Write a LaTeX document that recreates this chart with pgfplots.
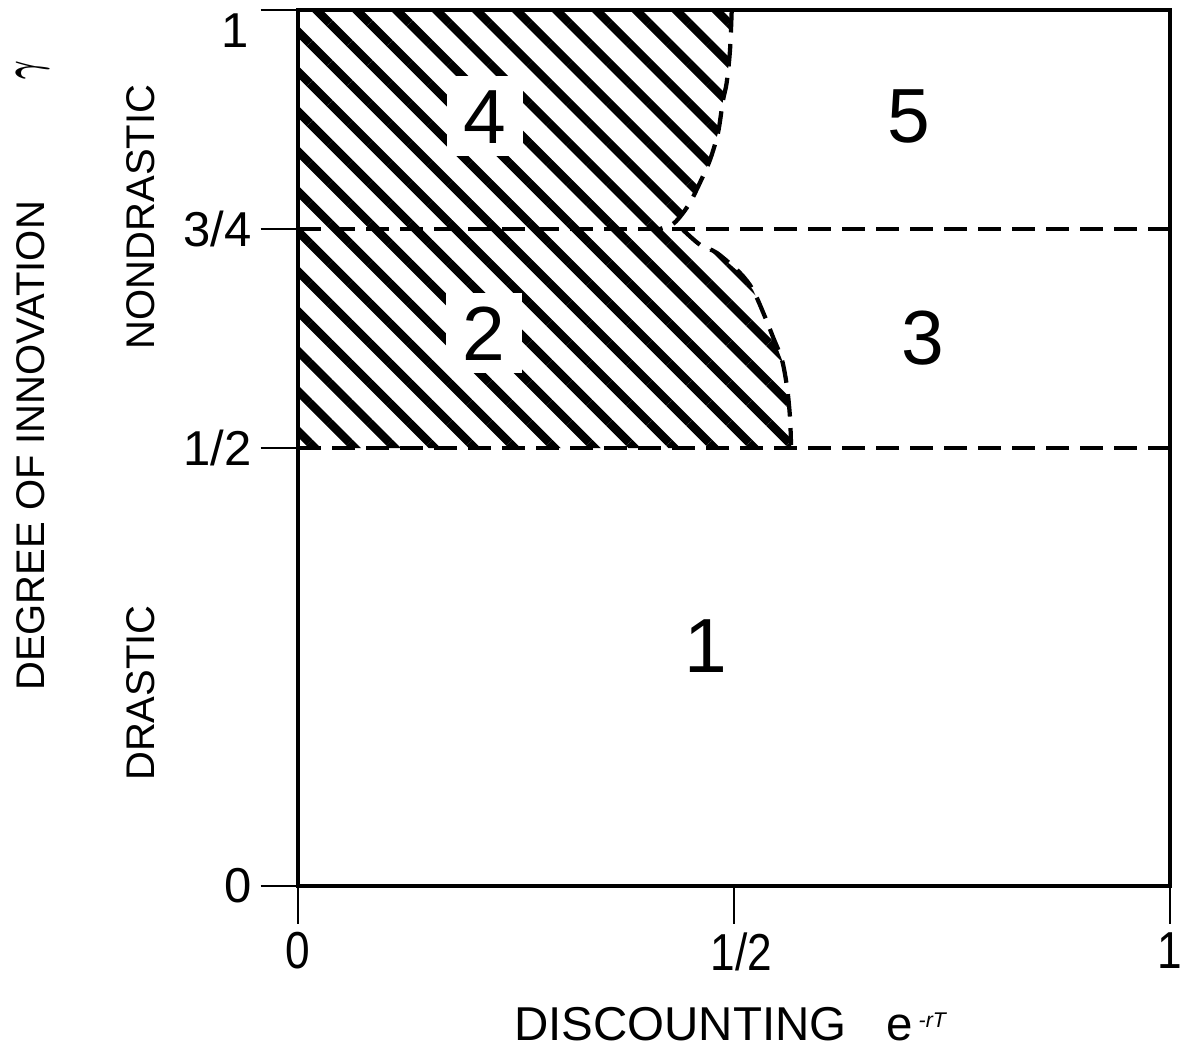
\documentclass[border=0pt]{standalone}
\usepackage{pgfplots}
\pgfplotsset{compat=1.18}
\usetikzlibrary{patterns.meta}
\usepackage{fontspec}
\setmainfont{Liberation Sans}
\newfontfamily\narrowfont[FakeStretch=0.85]{Liberation Sans}

\pgfplotstableread{
x y
0.0000 0.5000
0.5654 0.5000
0.5654 0.5034
0.5642 0.5354
0.5608 0.5696
0.5550 0.6005
0.5447 0.6267
0.5356 0.6495
0.5218 0.6804
0.5069 0.6998
0.4805 0.7226
0.4610 0.7320
0.4415 0.7490
0.4289 0.7550
0.4381 0.7640
0.4495 0.7800
0.4610 0.8030
0.4725 0.8290
0.4817 0.8600
0.4874 0.8970
0.4916 0.9170
0.4954 0.9540
0.4974 1.0000
0.0000 1.0000
}\hatchregion

\pgfplotstableread{
x y
0.4974 1.0000
0.4954 0.9540
0.4916 0.9170
0.4874 0.8970
0.4817 0.8600
0.4725 0.8290
0.4610 0.8030
0.4495 0.7800
0.4381 0.7640
0.4289 0.7550
0.4150 0.7500
}\uppercurve

\pgfplotstableread{
x y
0.4415 0.7490
0.4610 0.7320
0.4805 0.7226
0.5069 0.6998
0.5218 0.6804
0.5356 0.6495
0.5447 0.6267
0.5550 0.6005
0.5608 0.5696
0.5642 0.5354
0.5654 0.5034
}\lowercurve

\begin{document}
\begin{tikzpicture}
\begin{axis}[
  scale only axis, width=348.8pt, height=350.4pt,
  xmin=0, xmax=1, ymin=0, ymax=1,
  xtick={0,0.5,1}, xticklabels={0,\hspace{6pt}1/2,1},
  ytick={0,0.5,0.75,1}, yticklabels={0,1/2,3/4,{}},
  tick pos=left, tick align=outside, major tick length=15pt,
  tick style={line width=0.8pt, black},
  axis line style={line width=1.8pt},
  /pgf/number format/assume math mode=true,
  xticklabel style={font=\narrowfont\fontsize{20.8}{21}\selectfont},
  yticklabel style={font=\fontsize{19.6}{20}\selectfont},
  mydash/.style={line width=1.7pt, dash pattern=on 9pt off 4.6pt},
]
\addplot[draw=none, pattern={Lines[angle=-45, distance=11.3pt, line width=3.4pt]}, pattern color=black]
  table {\hatchregion} -- cycle;
\addplot[mydash] coordinates {(0,0.75) (1,0.75)};
\addplot[mydash] coordinates {(0,0.5) (1,0.5)};
\addplot[mydash, smooth] table {\uppercurve};
\addplot[mydash, smooth] table {\lowercurve};

\tikzset{digit/.style={font=\fontsize{30.7}{31}\selectfont, text height=22pt, text depth=0pt, inner xsep=6.8pt, inner ysep=5pt}}
\node[digit, fill=white] at (axis cs:0.2144,0.879) {4};
\node[digit, fill=white] at (axis cs:0.2133,0.631) {2};
\node[digit] at (axis cs:0.7007,0.880) {5};
\node[digit] at (axis cs:0.7167,0.627) {3};
\node[digit] at (axis cs:0.4680,0.275) {1};
\end{axis}

\node[anchor=east, font=\fontsize{19.6}{20}\selectfont, inner sep=0pt] at (-19.6pt,342pt) {1};
\node[anchor=base, font=\fontsize{19}{19}\selectfont, inner sep=0pt] at (172.8pt,-61.6pt)
  {DISCOUNTING\hspace{0.84em}e\hspace{0.12em}\raisebox{5.2pt}{\fontsize{8.5}{8.5}\selectfont\itshape -rT}};
\node[anchor=base, rotate=90, font=\fontsize{16}{16}\selectfont, inner sep=0pt] at (-101.2pt,176pt) {DEGREE OF INNOVATION};
\node[anchor=base, rotate=90, inner sep=0pt] at (-103.6pt,326.4pt) {\scalebox{0.55}[1]{\fontsize{22}{22}\selectfont\boldmath$\gamma$}};
\node[anchor=base, rotate=90, font=\fontsize{16}{16}\selectfont, inner sep=0pt] at (-57.2pt,267.6pt) {NONDRASTIC};
\node[anchor=base, rotate=90, font=\fontsize{16}{16}\selectfont, inner sep=0pt] at (-57.2pt,77.2pt) {DRASTIC};

\pgfresetboundingbox
\useasboundingbox (-119.2pt,-66.4pt) rectangle (354pt,354.4pt);
\end{tikzpicture}
\end{document}
